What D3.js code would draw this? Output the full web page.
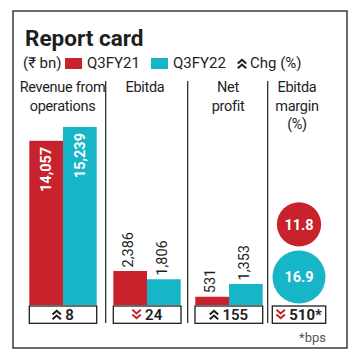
<!DOCTYPE html>
<html>
<head>
<meta charset="utf-8">
<script src="https://cdn.jsdelivr.net/npm/d3@7/dist/d3.min.js"></script>
<style>
  html, body { margin: 0; padding: 0; background: #fff; }
  svg { display: block; font-family: Roboto, "Noto Sans", sans-serif; }
</style>
</head>
<body>
<svg id="chart" width="358" height="363"></svg>
<script>
// ---------- data ----------
const title = "Report card";
const unitLabel = "(\u20B9 bn)";
const seriesNames = ["Q3FY21", "Q3FY22"];
const chgLabel = "Chg (%)";
const categories = ["Revenue from operations", "Ebitda", "Net profit", "Ebitda margin"];
const headerLines = [["Revenue from", "operations"], ["Ebitda"], ["Net", "profit"], ["Ebitda", "margin", "(%)"]];
const q3fy21 = [14057, 2386, 531, 11.8];
const q3fy22 = [15239, 1806, 1353, 16.9];
const valueLabels21 = ["14,057", "2,386", "531", "11.8"];
const valueLabels22 = ["15,239", "1,806", "1,353", "16.9"];
const chgDirection = ["up", "down", "up", "down"];
const chgValues = ["8", "24", "155", "510*"];
const footnote = "*bps";

// ---------- style ----------
const RED = "#c8232c", CYAN = "#16b5c8", INK = "#1e1e1e";
const svg = d3.select("#chart");

// frame
svg.append("rect").attr("x", 13).attr("y", 11).attr("width", 334).attr("height", 337)
  .attr("fill", "none").attr("stroke", INK).attr("stroke-width", 1.3);

svg.append("text").attr("x", 25).attr("y", 46).attr("font-size", 22.5).attr("font-weight", 700)
  .attr("fill", INK).text(title);

// chevron path generator
function chevron(g, dir, color, s) {
  s = s || 1;
  const d = dir === "up"
    ? "M-4,0 L0,-3.5 L4,0 M-4,4.5 L0,1 L4,4.5"
    : "M-4,-4.5 L0,-1 L4,-4.5 M-4,0 L0,3.5 L4,0";
  g.append("path").attr("d", d).attr("fill", "none").attr("stroke", color)
    .attr("stroke-width", 2).attr("stroke-linejoin", "miter")
    .attr("transform", `scale(${s})`);
}

// legend
const leg = svg.append("g").attr("font-size", 15).attr("fill", INK);
leg.append("text").attr("x", 23).attr("y", 68).text(unitLabel);
const sw = [[65, RED], [151, CYAN]];
seriesNames.forEach((n, i) => {
  leg.append("rect").attr("x", sw[i][0]).attr("y", 58).attr("width", 17).attr("height", 11).attr("fill", sw[i][1]);
  leg.append("text").attr("x", sw[i][0] + 22).attr("y", 68).text(n);
});
const lc = leg.append("g").attr("transform", "translate(242,63.5)");
chevron(lc, "up", INK, 1.05);
leg.append("text").attr("x", 250).attr("y", 68).text(chgLabel);

// ---------- layout scales ----------
const baseY = 305;
const panelX = d3.scaleOrdinal(categories, [63, 147, 229, 299]);
const seriesX = d3.scaleBand(seriesNames, [-33.7, 33.7]).padding(0);
const barMaxH = [178, 34, 21];
const yScales = [0, 1, 2].map(i => d3.scaleLinear([0, Math.max(q3fy21[i], q3fy22[i])], [baseY, baseY - barMaxH[i]]));

// dividers
[105.7, 187.7, 267.7].forEach(x => {
  svg.append("line").attr("x1", x).attr("x2", x).attr("y1", 81).attr("y2", 323)
    .attr("stroke", INK).attr("stroke-width", 1.2);
});

// headers
const headerCx = [62.5, 145, 228, 297];
headerLines.forEach((lines, i) => {
  const t = svg.append("text").attr("text-anchor", "middle").attr("font-size", 14.5)
    .attr("letter-spacing", -0.3).attr("fill", INK);
  lines.forEach((l, j) => {
    t.append("tspan").attr("x", headerCx[i]).attr("y", 92 + j * 18.5).text(l);
  });
});

// bars
[0, 1, 2].forEach(i => {
  const cat = categories[i];
  const vals = [q3fy21[i], q3fy22[i]];
  const labs = [valueLabels21[i], valueLabels22[i]];
  const y = yScales[i];
  const g = svg.append("g");
  vals.forEach((v, k) => {
    const x0 = panelX(cat) + seriesX(seriesNames[k]);
    const w = seriesX.bandwidth();
    g.append("rect").attr("x", x0).attr("y", y(v)).attr("width", w).attr("height", baseY - y(v))
      .attr("fill", k === 0 ? RED : CYAN);
    const cx = x0 + w / 2;
    if (i === 0) {
      g.append("text").attr("transform", `translate(${cx},${y(v) + 6}) rotate(-90)`)
        .attr("text-anchor", "end").attr("dy", "0.36em").attr("font-size", 14.5)
        .attr("font-weight", 700).attr("fill", "#fff").text(labs[k]);
    } else {
      g.append("text").attr("transform", `translate(${cx - 2},${y(v) - 3.5}) rotate(-90)`)
        .attr("text-anchor", "start").attr("dy", "0.36em").attr("font-size", 14.5)
        .attr("fill", INK).text(labs[k]);
    }
  });
});

// margin circles
const rScale = d3.scaleSqrt([0, Math.max(q3fy21[3], q3fy22[3])], [0, 26.5]);
const mcx = panelX(categories[3]);
const rC = rScale(q3fy22[3]), rR = rScale(q3fy21[3]);
const cyC = 303.5 - rC;
const cyR = cyC - rC - 4 - rR;
[[cyR, rR, RED, valueLabels21[3]], [cyC, rC, CYAN, valueLabels22[3]]].forEach(([cy, r, c, l]) => {
  svg.append("circle").attr("cx", mcx).attr("cy", cy).attr("r", r).attr("fill", c);
  svg.append("text").attr("x", mcx).attr("y", cy).attr("dy", "0.36em").attr("text-anchor", "middle")
    .attr("font-size", 14.5).attr("font-weight", 700).attr("fill", "#fff").text(l);
});

// change boxes
const boxExt = [[29.3, 96.7], [113.3, 181], [195, 262.7], [272.3, 325.7]];
chgValues.forEach((v, i) => {
  const [a, b] = boxExt[i];
  svg.append("rect").attr("x", a).attr("y", 306).attr("width", b - a).attr("height", 17.3)
    .attr("fill", "#fff").attr("stroke", INK).attr("stroke-width", 1.3);
  const g = svg.append("g");
  const t = g.append("text").attr("y", 319.5).attr("font-size", 15)
    .attr("font-weight", v.includes("*") ? 700 : 600).attr("fill", INK).text(v);
  const tw = t.node().getComputedTextLength();
  const total = 9 + 4 + tw;
  const start = (a + b) / 2 - total / 2;
  t.attr("x", start + 13);
  const cg = g.append("g").attr("transform", `translate(${start + 4.5},314.5)`);
  chevron(cg, chgDirection[i], chgDirection[i] === "up" ? INK : RED, 1.05);
});

svg.append("text").attr("x", 326).attr("y", 341.5).attr("text-anchor", "end").attr("font-size", 13)
  .attr("fill", "#555").text(footnote);
</script>
</body>
</html>
